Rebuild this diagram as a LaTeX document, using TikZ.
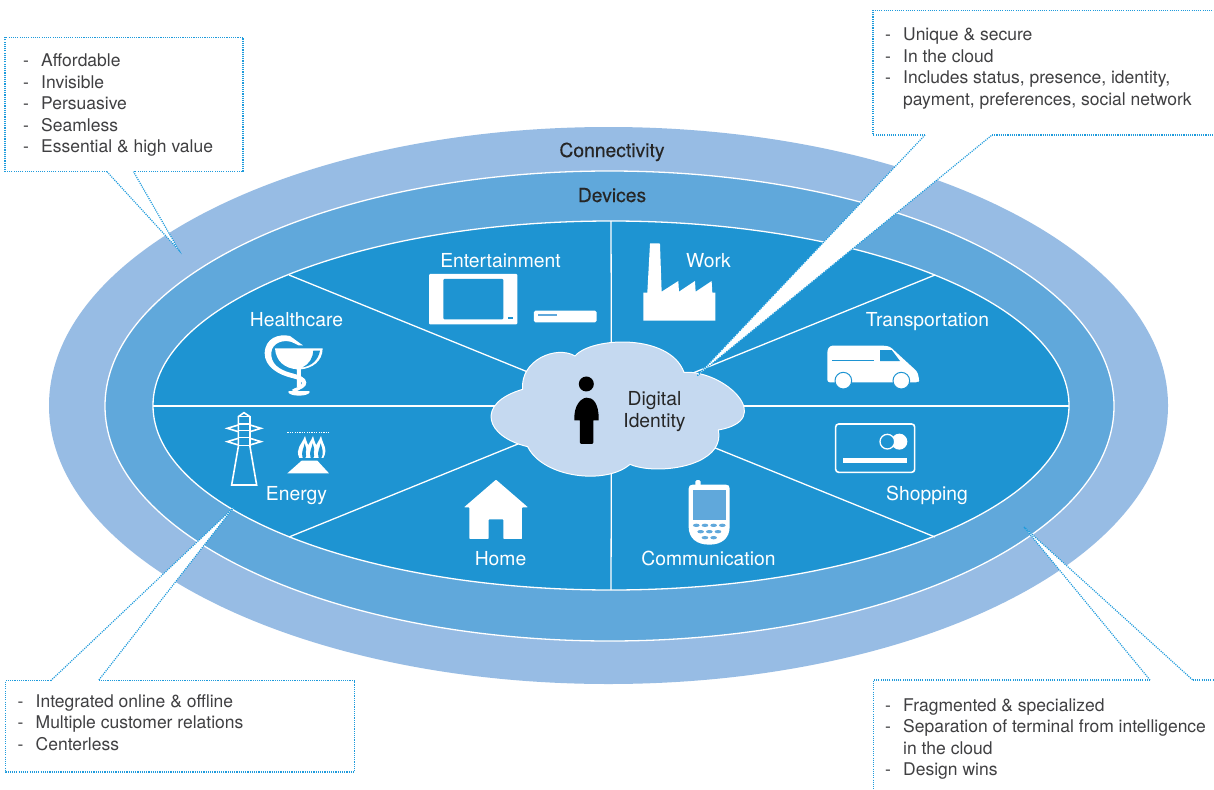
\documentclass[tikz,border=0pt]{standalone}
\usepackage{fontspec}
\setmainfont{TeX Gyre Heros}
\newfontfamily\medfont[FakeBold=0.2]{TeX Gyre Heros}
\definecolor{outerblue}{HTML}{97BCE4}
\definecolor{midblue}{HTML}{60A8DB}
\definecolor{innerblue}{HTML}{1E94D2}
\definecolor{cloudblue}{HTML}{C5D9F0}
\definecolor{dotblue}{HTML}{1E9BDC}
\definecolor{ink}{HTML}{404042}
\tikzset{
  callouttext/.style={anchor=north west,inner sep=0pt,align=left,text=ink,font=\fontsize{17.5}{21.4}\selectfont},
  dotline/.style={draw=dotblue,line width=1.2pt,dash pattern=on 1.1pt off 1.1pt},
  wedgefill/.style={fill=white,draw=none},
  whitelabel/.style={anchor=base,text=white,inner sep=0pt,font=\fontsize{19.3}{23}\selectfont},
  darklabel/.style={anchor=base,text=black!85,inner sep=0pt,font=\medfont\fontsize{19.3}{23}\selectfont},
  divider/.style={draw=white,line width=1.3pt},
  zoomA/.style={shift={(400,220)},x=0.3333pt,y=-0.3333pt},
  zoomB/.style={shift={(200,300)},x=0.3333pt,y=-0.3333pt},
  zoomC/.style={shift={(800,330)},x=0.3333pt,y=-0.3333pt},
  zoomD/.style={shift={(440,470)},x=0.3333pt,y=-0.3333pt},
}
\newcommand{\dashitem}[1]{\makebox[18pt][l]{-}#1}
\newcommand{\dashgap}[1]{\makebox[18pt][l]{}#1}
\begin{document}
\begin{tikzpicture}[x=1pt,y=-1pt]
\clip (0,0) rectangle (1214,789);
\fill[white] (0,0) rectangle (1214,789);
% rings
\fill[outerblue] (608.5,405.5) ellipse [x radius=559.5,y radius=278.5];
\filldraw[fill=midblue,draw=white,line width=1.3pt] (609.5,406) ellipse [x radius=504.5,y radius=235];
\filldraw[fill=innerblue,draw=white,line width=1.3pt] (611,405.5) ellipse [x radius=458,y radius=184.5];
% sector dividers
\coordinate (hub) at (611.5,406);
\coordinate (secN) at (611,221);
\coordinate (secS) at (611,590);
\coordinate (secW) at (153,406);
\coordinate (secE) at (1069,406);
\coordinate (secNW) at (289,275);
\coordinate (secNE) at (935,275);
\coordinate (secSW) at (289,537);
\coordinate (secSE) at (935,537);
\foreach \s in {secN,secS,secW,secE,secNW,secNE,secSW,secSE}{\draw[divider] (hub) -- (\s);}
% cloud
\begin{scope}[zoomA]
\filldraw[fill=cloudblue,draw=white,line width=1pt]
 (525,408) .. controls (575,350) and (810,340) .. (852,457)
 .. controls (975,450) and (1130,600) .. (955,630)
 .. controls (960,650) and (955,670) .. (945,685)
 .. controls (900,750) and (750,760) .. (690,733)
 .. controls (620,795) and (430,775) .. (383,680)
 .. controls (255,650) and (225,550) .. (368,508)
 .. controls (360,420) and (470,375) .. (525,408) -- cycle;
% person
\fill[black] (559,492) circle [radius=22.5];
\fill[black] (523,595) .. controls (522,520) and (597,505) .. (596,595)
  -- (596,601) -- (580,601) -- (580,668) -- (577,672) -- (543,672) -- (540,668) -- (540,601) -- (523,601) -- cycle;
% entertainment
\fill[white,rounded corners=1pt] (87,162) rectangle (352,313);
\fill[innerblue,rounded corners=1pt] (130,177) rectangle (310,298);
\fill[innerblue] (325,292) rectangle (338,298);
\fill[white,rounded corners=1.5pt] (402,272) rectangle (590,307);
\fill[midblue] (414,283) rectangle (470,289);
% factory
\fill[white] (750,72) -- (751,70) -- (778,70) -- (780,72) -- (785,215) -- (835,183) -- (837,215) -- (885,183) -- (887,215) -- (935,183) -- (937,218) -- (946,218) -- (946,302) -- (730,302) -- (730,218) -- (742,218) -- cycle;
\end{scope}
% healthcare
\begin{scope}[zoomB]
\fill[white] (225,145) -- (368,145) .. controls (368,185) and (335,205) .. (303,208) -- (303,262) -- (291,262) -- (291,208) .. controls (255,205) and (228,185) .. (225,145) -- cycle;
\fill[innerblue] (340,152) -- (360,152) .. controls (355,180) and (335,198) .. (308,202) .. controls (328,192) and (338,175) .. (340,152) -- cycle;
\fill[white] (297,276) ellipse [x radius=32,y radius=11];
\fill[innerblue] (255,262) rectangle (340,272);
\fill[white] (309,136) -- (296,127) -- (270,108) .. controls (235,100) and (195,115) .. (194,160)
 .. controls (194,200) and (235,225) .. (280,235)
 .. controls (300,240) and (308,245) .. (305,252)
 .. controls (300,262) and (285,262) .. (275,270)
 -- (285,276) .. controls (300,268) and (320,262) .. (319,248)
 .. controls (318,232) and (300,226) .. (270,218)
 .. controls (235,208) and (212,190) .. (214,158)
 .. controls (216,128) and (250,118) .. (275,126) -- (296,136) -- cycle;
% tower
\begin{scope}[draw=white,line width=1.6pt]
\draw (95,555) -- (170,555) -- (150,440) -- (150,350) -- (132,338) -- (115,350) -- (115,440) -- cycle;
\draw (150,350) -- (115,350);
\draw (115,372) -- (150,372);
\draw (115,392) -- (150,392);
\draw (115,412) -- (150,412);
\draw (115,436) -- (150,436);
\draw (115,375) -- (82,385) -- (115,395);
\draw (150,375) -- (183,385) -- (150,395);
\draw (115,415) -- (82,425) -- (115,435);
\draw (150,415) -- (183,425) -- (150,435);
\end{scope}
% flame
\draw[white,line width=1.2pt,dash pattern=on 1.2pt off 1.2pt] (262,398) -- (388,398);
\fill[white] (262,520) -- (305,482) -- (352,482) -- (387,520) -- cycle;
\foreach \dx in {0,24,48}{
\fill[white,shift={(\dx,0)}] (298,474) .. controls (285,445) and (305,435) .. (315,408) .. controls (318,430) and (338,445) .. (322,474) -- cycle;
\fill[innerblue,shift={(\dx,0)}] (308,474) .. controls (302,455) and (312,445) .. (314,430) .. controls (318,445) and (325,460) .. (316,474) -- cycle;}
\end{scope}
% van and card
\begin{scope}[zoomC]
\fill[white,rounded corners=2.5pt] (82,157) -- (82,60) -- (90,47) -- (255,47) -- (270,50) -- (330,105) -- (352,125) -- (358,150) -- (355,157) -- cycle;
\fill[innerblue] (240,60) -- (275,60) -- (300,93) -- (240,93) -- cycle;
\fill[innerblue] (96,90) rectangle (223,93);
\filldraw[fill=white,draw=innerblue,line width=1pt] (130,152) circle [radius=25];
\filldraw[fill=white,draw=innerblue,line width=1pt] (304,152) circle [radius=25];
\draw[white,line width=1.6pt,rounded corners=3pt] (107,282) rectangle (344,427);
\fill[white] (298,335) circle [radius=24];
\filldraw[fill=innerblue,draw=white,line width=1.3pt] (262,335) circle [radius=22];
\fill[white] (129,385) rectangle (322,400);
\end{scope}
% home and phone
\begin{scope}[zoomD]
\fill[white,rounded corners=0.7pt] (168,29) -- (264,112) -- (246,112) -- (246,207) -- (190,207) -- (190,148) -- (146,148) -- (146,207) -- (88,207) -- (88,112) -- (72,112) -- cycle;
\fill[white,rounded corners=1.5pt] (766,30) rectangle (782,50);
\fill[white] (746,56) .. controls (746,48) and (750,44) .. (758,44) -- (858,44) .. controls (866,44) and (869,48) .. (869,56) -- (869,170) .. controls (869,205) and (845,224) .. (808,224) .. controls (770,224) and (746,205) .. (746,170) -- cycle;
\fill[midblue] (759,60) rectangle (859,150);
\foreach \kx in {769,795,821,847}{\fill[midblue] (\kx,166) ellipse [x radius=10,y radius=5];}
\foreach \kx in {782,808,834}{\fill[midblue] (\kx,185) ellipse [x radius=10,y radius=5];}
\foreach \kx in {795,821}{\fill[midblue] (\kx,203) ellipse [x radius=10,y radius=5];}
\end{scope}
% labels
\node[darklabel] (connectivity) at (612,157) {Connectivity};
\node[darklabel] (devices) at (612,202) {Devices};
\node[whitelabel] (entertainment) at (500.5,267.3) {Entertainment};
\node[whitelabel] (work) at (708.5,267.3) {Work};
\node[whitelabel] (healthcare) at (296.5,326) {Healthcare};
\node[whitelabel] (transportation) at (927.5,326) {Transportation};
\node[whitelabel] (energy) at (296.5,500) {Energy};
\node[whitelabel] (shopping) at (927,500) {Shopping};
\node[whitelabel] (home) at (500.5,565) {Home};
\node[whitelabel] (communication) at (708.5,565) {Communication};
\node[anchor=center,align=center,inner sep=0pt,text=black!85,font=\fontsize{19.3}{22}\selectfont] (identity) at (654.5,412) {Digital\\Identity};
% callouts
\coordinate (tlA) at (107,171.7); \coordinate (tlB) at (133.5,171.7); \coordinate (tlTip) at (178.7,250);
\coordinate (trA) at (925,135); \coordinate (trB) at (992,135); \coordinate (trTip) at (697,376);
\coordinate (blA) at (50.7,680.7); \coordinate (blB) at (98.3,680.7); \coordinate (blTip) at (234,507);
\coordinate (brA) at (1150,680); \coordinate (brB) at (1192.7,680); \coordinate (brTip) at (1024,527);
\foreach \p in {tl,tr,bl,br}{\fill[wedgefill] (\p A) -- (\p Tip) -- (\p B) -- cycle;}
% box outlines
\draw[dotline] (tlA) -- (5,171.7) -- (5,37.5) -- (243,37.5) -- (243,171.7) -- (tlB);
\draw[dotline] (tlA) -- (tlTip) -- (tlB);
\draw[dotline] (trA) -- (873,135) -- (873,10.5) -- (1216,10.5);
\draw[dotline] (trB) -- (1216,135);
\draw[dotline] (trA) -- (trTip) -- (trB);
\draw[dotline] (blA) -- (5.5,680.7) -- (5.5,772) -- (354.5,772) -- (354.5,680.7) -- (blB);
\draw[dotline] (blA) -- (blTip) -- (blB);
\draw[dotline] (brA) -- (873.3,680) -- (873.3,791);
\draw[dotline] (brB) -- (1216,680);
\draw[dotline] (brA) -- (brTip) -- (brB);
% callout text
\node[callouttext] (tltext) at (23,53.8) {\dashitem{Affordable}\\\dashitem{Invisible}\\\dashitem{Persuasive}\\\dashitem{Seamless}\\\dashitem{Essential \& high value}};
\node[callouttext] (trtext) at (885,28) {\dashitem{Unique \& secure}\\\dashitem{In the cloud}\\\dashitem{Includes status, presence, identity,}\\\dashgap{payment, preferences, social network}};
\node[callouttext] (bltext) at (17.5,694.5) {\dashitem{Integrated online \& offline}\\\dashitem{Multiple customer relations}\\\dashitem{Centerless}};
\node[callouttext] (brtext) at (885,698.3) {\dashitem{Fragmented \& specialized}\\\dashitem{Separation of terminal from intelligence}\\\dashgap{in the cloud}\\\dashitem{Design wins}};
\end{tikzpicture}
\end{document}
